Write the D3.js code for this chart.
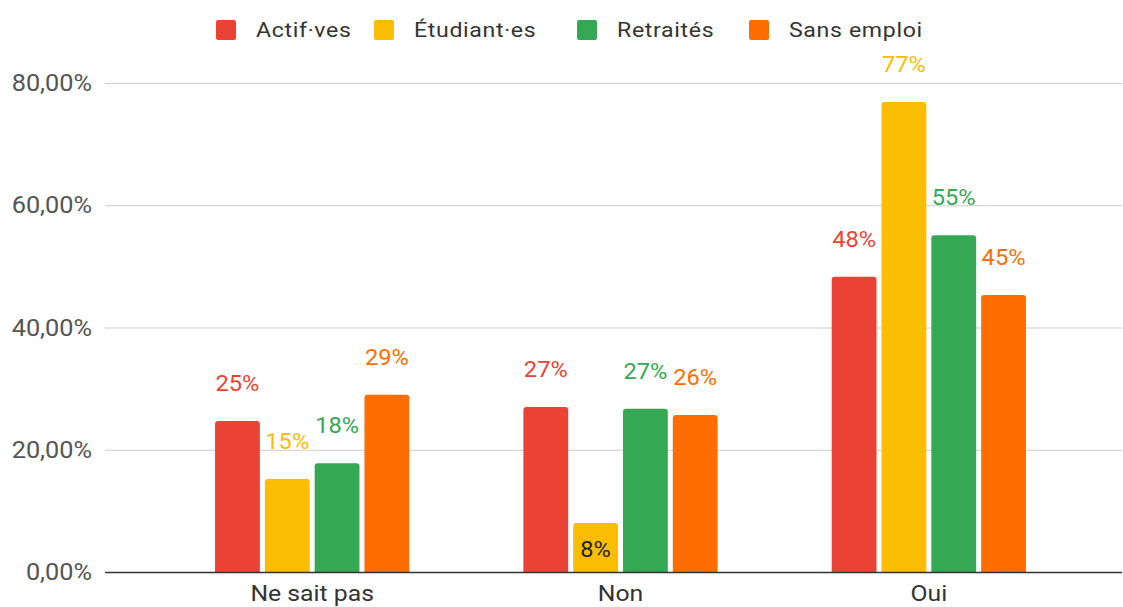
<!DOCTYPE html>
<meta charset="utf-8">
<style>
    body { margin: 0; background: #fff; }
    svg { font-family: Roboto, "Noto Sans", sans-serif; }
    .grid line { stroke: #ccc; stroke-width: 1px; }
    .ytick { fill: #555; font-size: 23px; }
    .xlabel { fill: #333; font-size: 22.5px; }
    .legend text { fill: #333; font-size: 21px; letter-spacing: 0.6px; }
    .val { font-size: 21.5px; }
</style>
<svg width="1123" height="607"></svg>
<script src="https://cdn.jsdelivr.net/npm/d3@7"></script>
<script>

    // données
    var categories = ["Ne sait pas", "Non", "Oui"];
    var series = ["Actif·ves", "Étudiant·es", "Retraités", "Sans emploi"];
    var colors = ["#ea4335", "#fbbc04", "#34a853", "#ff6d01"];
    var actifs    = [24.7, 27.0, 48.3];
    var etudiants = [15.2, 8.0, 76.9];
    var retraites = [17.8, 26.7, 55.1];
    var sansEmploi = [29.0, 25.7, 45.3];
    var yTicks = [0, 20, 40, 60, 80];

    var values = [actifs, etudiants, retraites, sansEmploi];

    var svg = d3.select("svg"),
            plotLeft = 105, plotRight = 1122,
            plotTop = 83, plotBottom = 572,
            stretch = 1.1; // le texte de l'original est un peu étiré

    function place(x, yy) {
        return "translate(" + x + "," + yy + ") scale(" + stretch + ",1)";
    }

    var y = d3.scaleLinear().domain([0, 80]).range([plotBottom, plotTop]);

    var x0 = d3.scaleBand()
            .domain(categories)
            .range([158, 1083])
            .paddingInner(0.37)
            .paddingOuter(0.185);

    var x1 = d3.scaleBand()
            .domain(series)
            .range([0, x0.bandwidth()])
            .paddingInner(0.1);

    // grille
    var grid = svg.append("g").attr("class", "grid");
    grid.selectAll("line")
            .data(yTicks.filter(function (t) { return t > 0; }))
            .enter().append("line")
            .attr("x1", plotLeft).attr("x2", plotRight)
            .attr("y1", function (d) { return y(d) + 0.5; })
            .attr("y2", function (d) { return y(d) + 0.5; });

    svg.append("g").selectAll("text")
            .data(yTicks)
            .enter().append("text")
            .attr("class", "ytick")
            .attr("transform", function (d) { return place(92, y(d)); })
            .attr("dy", "0.35em")
            .attr("text-anchor", "end")
            .text(function (d) { return d3.format(".2f")(d).replace(".", ",") + "%"; });

    // barres
    function barPath(x, w, yTop, yBot, r) {
        return "M" + x + "," + yBot +
                "V" + (yTop + r) +
                "Q" + x + "," + yTop + " " + (x + r) + "," + yTop +
                "H" + (x + w - r) +
                "Q" + (x + w) + "," + yTop + " " + (x + w) + "," + (yTop + r) +
                "V" + yBot + "Z";
    }

    var rows = [];
    series.forEach(function (s, si) {
        categories.forEach(function (c, ci) {
            rows.push({serie: s, si: si, cat: c, v: values[si][ci]});
        });
    });

    svg.append("g").selectAll("path")
            .data(rows)
            .enter().append("path")
            .attr("fill", function (d) { return colors[d.si]; })
            .attr("d", function (d) {
                return barPath(x0(d.cat) + x1(d.serie), x1.bandwidth(), y(d.v), plotBottom, 3);
            });

    // étiquettes (la petite barre garde son texte à l'intérieur)
    svg.append("g").selectAll("text")
            .data(rows)
            .enter().append("text")
            .attr("class", "val")
            .attr("transform", function (d) {
                var cx = x0(d.cat) + x1(d.serie) + x1.bandwidth() / 2;
                return place(cx, d.v < 10 ? y(d.v) + 34 : y(d.v) - 30);
            })
            .attr("text-anchor", "middle")
            .attr("fill", function (d) { return d.v < 10 ? "#222" : colors[d.si]; })
            .text(function (d) { return Math.round(d.v) + "%"; });

    // axe de base
    svg.append("line")
            .attr("x1", plotLeft).attr("x2", plotRight)
            .attr("y1", plotBottom + 0.5).attr("y2", plotBottom + 0.5)
            .attr("stroke", "#333").attr("stroke-width", 1.5);

    svg.append("g").selectAll("text")
            .data(categories)
            .enter().append("text")
            .attr("class", "xlabel")
            .attr("transform", function (d) { return place(x0(d) + x0.bandwidth() / 2, 601); })
            .attr("text-anchor", "middle")
            .text(function (d) { return d; });

    // légende
    var legendX = [216, 374, 577, 749];
    var legend = svg.append("g").attr("class", "legend")
            .selectAll("g")
            .data(series)
            .enter().append("g")
            .attr("transform", function (d, i) { return "translate(" + legendX[i] + ",20)"; });
    legend.append("rect")
            .attr("width", 20).attr("height", 20).attr("rx", 2)
            .attr("fill", function (d, i) { return colors[i]; });
    legend.append("text")
            .attr("transform", place(40, 17))
            .text(function (d) { return d; });

</script>
